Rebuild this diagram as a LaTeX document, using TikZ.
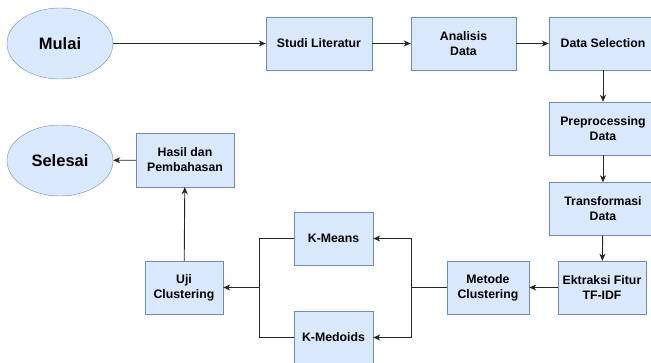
\documentclass[tikz,border=0pt]{standalone}
\usepackage{fontspec}
\setmainfont{Liberation Sans}
\usetikzlibrary{shapes.geometric,arrows.meta}
\definecolor{boxfill}{HTML}{DAE8FC}
\definecolor{boxline}{HTML}{6C8EBF}

\begin{document}
\begin{tikzpicture}[x=1pt,y=-1pt]

    \useasboundingbox (0,0) rectangle (651,362);

    \begin{scope}[every node/.style={ellipse,draw=boxline,fill=boxfill,minimum width=106pt,minimum height=71pt,font=\fontsize{16.5}{19}\selectfont\bfseries}]
        \node (mulai) at (60,43.5) {Mulai};
        \node (selesai) at (60,160.5) {Selesai};
    \end{scope}

    \begin{scope}[every node/.style={rectangle,draw=boxline,fill=boxfill,minimum height=53pt,inner sep=0pt,align=center,font=\fontsize{12.3}{15}\selectfont\bfseries}]
        \node[minimum width=106pt] (studi) at (319,43.5) {Studi Literatur};
        \node[minimum width=105pt] (analisis) at (463.5,43.5) {Analisis\\Data};
        \node[minimum width=108pt] (seleksi) at (603,43.5) {Data Selection};
        \node[minimum width=108pt] (prepro) at (603,128.5) {Preprocessing\\Data};
        \node[minimum width=108pt] (transf) at (603,209) {Transformasi\\Data};
        \node[minimum width=88pt] (ekstraksi) at (602,287.5) {Ektraksi Fitur\\TF-IDF};
        \node[minimum width=82pt] (metode) at (488,287.5) {Metode\\Clustering};
        \node[minimum width=79pt] (kmeans) at (333.5,238.5) {K-Means};
        \node[minimum width=79pt] (kmedoids) at (333.5,337.5) {K-Medoids};
        \node[minimum width=78pt] (uji) at (184,287.5) {Uji\\Clustering};
        \node[minimum width=98pt,minimum height=54pt] (hasil) at (185,160) {Hasil dan\\Pembahasan};
    \end{scope}

    % Titik cabang %
    \coordinate (cabang1) at (411,287.5);
    \coordinate (cabang2) at (259,287.5);

    \begin{scope}[every edge/.style={draw=black!85,line width=0.9pt}, garis/.style={draw=black!85,line width=0.9pt}, >={Stealth[length=7pt,width=6pt,inset=2pt]}]
        \path [->] (mulai) edge (studi);
        \path [->] (studi) edge (analisis);
        \path [->] (analisis) edge (seleksi);
        \path [->] (seleksi) edge (prepro);
        \path [->] (prepro) edge (transf);
        \path [->] (transf) edge (ekstraksi);
        \path [->] (ekstraksi) edge (metode);

        % Cabang ke K-Means dan K-Medoids %
        \draw [garis] (metode) -- (cabang1);
        \draw [garis,->] (cabang1) |- (kmeans);
        \draw [garis,->] (cabang1) |- (kmedoids);

        % Gabung ke Uji Clustering %
        \draw [garis] (kmeans) -| (cabang2);
        \draw [garis] (kmedoids) -| (cabang2);
        \draw [garis,->] (cabang2) -- (uji);

        \path [->] (uji) edge (hasil);
        \path [->] (hasil) edge (selesai);
    \end{scope}

\end{tikzpicture}
\end{document}
